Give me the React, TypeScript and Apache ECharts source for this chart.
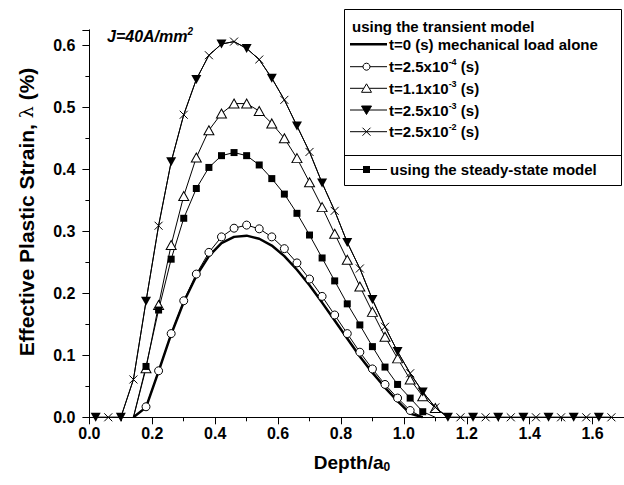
import React, { useEffect, useRef } from "react";
import * as echarts from "echarts";

// Depth / a0 sampling (x)
const depthFull = [
  0.02, 0.06, 0.1, 0.14, 0.18, 0.22, 0.26, 0.3, 0.34, 0.38, 0.42, 0.46, 0.5, 0.54,
  0.58, 0.62, 0.66, 0.7, 0.74, 0.78, 0.82, 0.86, 0.9, 0.94, 0.98, 1.02, 1.06, 1.1,
  1.14, 1.18, 1.22, 1.26, 1.3, 1.34, 1.38, 1.42, 1.46, 1.5, 1.54, 1.58, 1.62, 1.66,
];
const depthCore = [
  0.14, 0.18, 0.22, 0.26, 0.3, 0.34, 0.38, 0.42, 0.46, 0.5, 0.54, 0.58, 0.62, 0.66,
  0.7, 0.74, 0.78, 0.82, 0.86, 0.9, 0.94, 0.98, 1.02, 1.06, 1.1, 1.14,
];

// Effective plastic strain (%)
const strainT0 = [
  0, 0.016, 0.074, 0.134, 0.186, 0.228, 0.26, 0.281, 0.291, 0.293, 0.288, 0.277,
  0.26, 0.238, 0.213, 0.185, 0.156, 0.127, 0.098, 0.072, 0.048, 0.026, 0.006, 0,
];
const strainT25e4 = [
  0, 0.017, 0.075, 0.135, 0.188, 0.231, 0.266, 0.291, 0.305, 0.31, 0.304, 0.291,
  0.272, 0.249, 0.223, 0.195, 0.165, 0.135, 0.105, 0.078, 0.053, 0.031, 0.011, 0,
];
const strainT11e3 = [
  0, 0.079, 0.181, 0.278, 0.357, 0.419, 0.463, 0.49, 0.506, 0.506, 0.494, 0.474,
  0.45, 0.418, 0.379, 0.339, 0.296, 0.254, 0.211, 0.17, 0.13, 0.095, 0.061, 0.034,
  0.015, 0,
];
const strainT25e3 = [
  0, 0, 0, 0.061, 0.187, 0.309, 0.412, 0.488, 0.545, 0.584, 0.602, 0.606, 0.595,
  0.577, 0.547, 0.512, 0.47, 0.428, 0.378, 0.333, 0.282, 0.24, 0.19, 0.146, 0.106,
  0.071, 0.041, 0.016, 0, 0, 0, 0, 0, 0, 0, 0, 0, 0, 0, 0, 0, 0,
];
const strainT25e2 = [
  0, 0, 0, 0.061, 0.187, 0.309, 0.412, 0.488, 0.545, 0.584, 0.602, 0.606, 0.595,
  0.577, 0.547, 0.512, 0.47, 0.428, 0.378, 0.333, 0.282, 0.24, 0.19, 0.146, 0.106,
  0.071, 0.041, 0.016, 0, 0, 0, 0, 0, 0, 0, 0, 0, 0, 0, 0, 0, 0,
];
const strainSteady = [
  0, 0.082, 0.173, 0.255, 0.321, 0.369, 0.403, 0.422, 0.427, 0.422, 0.407, 0.385,
  0.36, 0.329, 0.294, 0.257, 0.22, 0.183, 0.149, 0.114, 0.081, 0.053, 0.031, 0.009, 0,
];

const FONT = "Liberation Sans";
const CROSS = "path://M0,0L10,10M10,0L0,10";

const pairs = (xs: number[], ys: number[]) => ys.map((y, i) => [xs[i], y]);

export default function App() {
  const ref = useRef<HTMLDivElement>(null);
  useEffect(() => {
    const chart = echarts.init(ref.current!, null, { renderer: "svg" });
    const black = "#000";
    const thin = { color: black, width: 1 };
    const openItem = { color: "#fff", borderColor: black, borderWidth: 1 };
    const fillItem = { color: black, borderColor: black, borderWidth: 0 };

    const LX0 = 350;
    const LX1 = 387;
    const MX = 366.5;
    const TX = 389;
    const rich = {
      a: { fontFamily: FONT, fontSize: 15, fontWeight: "bold", color: black, lineHeight: 18 },
      s: { fontFamily: FONT, fontSize: 9, fontWeight: "bold", color: black, verticalAlign: "top", lineHeight: 9 },
    };
    const legendText = (y: number, text: string) => ({
      type: "text",
      x: TX,
      y,
      silent: true,
      style: { text, rich, align: "left", verticalAlign: "middle", textAlign: "left", textVerticalAlign: "middle" },
    });
    const sample = (y: number, w: number) => ({
      type: "line",
      silent: true,
      shape: { x1: LX0, y1: y, x2: LX1, y2: y },
      style: { stroke: black, lineWidth: w },
    });
    const rows = [44.3, 66.7, 88.3, 110, 131.7];
    const ySteady = 169.5;

    const graphic: any[] = [
      {
        type: "rect",
        silent: true,
        shape: { x: 344.5, y: 9.5, width: 277, height: 176 },
        style: { fill: "#fff", stroke: black, lineWidth: 1 },
      },
      {
        type: "line",
        silent: true,
        shape: { x1: 344.5, y1: 155.5, x2: 621.5, y2: 155.5 },
        style: { stroke: black, lineWidth: 1 },
      },
      {
        type: "text",
        x: 352,
        y: 26.5,
        silent: true,
        style: { text: "{a|using the transient model}", rich, align: "left", verticalAlign: "middle", textAlign: "left", textVerticalAlign: "middle" },
      },
      sample(rows[0], 2.5),
      legendText(rows[0], "{a|t=0 (s) mechanical load alone}"),
      sample(rows[1], 1),
      { type: "circle", silent: true, shape: { cx: MX, cy: rows[1], r: 3.5 }, style: { fill: "#fff", stroke: black, lineWidth: 1 } },
      legendText(rows[1], "{a|t=2.5x10}{s|-4}{a| (s)}"),
      sample(rows[2], 1),
      {
        type: "polygon",
        silent: true,
        shape: { points: [[MX, rows[2] - 4.5], [MX + 5, rows[2] + 4], [MX - 5, rows[2] + 4]] },
        style: { fill: "#fff", stroke: black, lineWidth: 1 },
      },
      legendText(rows[2], "{a|t=1.1x10}{s|-3}{a| (s)}"),
      sample(rows[3], 1),
      {
        type: "polygon",
        silent: true,
        shape: { points: [[MX - 5, rows[3] - 4], [MX + 5, rows[3] - 4], [MX, rows[3] + 4.5]] },
        style: { fill: black, stroke: black, lineWidth: 1 },
      },
      legendText(rows[3], "{a|t=2.5x10}{s|-3}{a| (s)}"),
      sample(rows[4], 1),
      { type: "line", silent: true, shape: { x1: MX - 4, y1: rows[4] - 4, x2: MX + 4, y2: rows[4] + 4 }, style: { stroke: black, lineWidth: 1 } },
      { type: "line", silent: true, shape: { x1: MX - 4, y1: rows[4] + 4, x2: MX + 4, y2: rows[4] - 4 }, style: { stroke: black, lineWidth: 1 } },
      legendText(rows[4], "{a|t=2.5x10}{s|-2}{a| (s)}"),
      sample(ySteady, 1),
      { type: "rect", silent: true, shape: { x: MX - 3.5, y: ySteady - 3.5, width: 7, height: 7 }, style: { fill: black } },
      { ...legendText(ySteady, "{a|using the steady-state model}"), x: 390 },
      {
        type: "text",
        x: 107,
        y: 36,
        silent: true,
        style: {
          text: "{a|J=40A/mm}{s|2}",
          rich: {
            a: { fontFamily: FONT, fontSize: 16, fontWeight: "bold", fontStyle: "italic", color: black, lineHeight: 19 },
            s: { fontFamily: FONT, fontSize: 10, fontWeight: "bold", fontStyle: "italic", color: black, verticalAlign: "top", lineHeight: 10 },
          },
          align: "left", verticalAlign: "middle", textAlign: "left", textVerticalAlign: "middle",
        },
      },
      {
        type: "text",
        x: 26,
        y: 212,
        rotation: Math.PI / 2,
        silent: true,
        style: {
          text: "{a|Effective Plastic Strain, }{l|λ}{a| (%)}",
          rich: {
            a: { fontFamily: FONT, fontSize: 21, fontWeight: "bold", color: black, lineHeight: 25 },
            l: { fontFamily: "DejaVu Serif", fontSize: 19, fontWeight: "normal", color: black, lineHeight: 25 },
          },
          align: "center", verticalAlign: "middle", textAlign: "center", textVerticalAlign: "middle",
        },
      },
      {
        type: "text",
        x: 352,
        y: 462,
        silent: true,
        style: {
          text: "{a|Depth/a}{b|0}",
          rich: {
            a: { fontFamily: FONT, fontSize: 19, fontWeight: "bold", color: black, lineHeight: 22 },
            b: { fontFamily: FONT, fontSize: 12, fontWeight: "bold", color: black, verticalAlign: "bottom", lineHeight: 12 },
          },
          align: "center", verticalAlign: "middle", textAlign: "center", textVerticalAlign: "middle",
        },
      },
    ];

    const axisCommon = {
      type: "value" as const,
      axisLine: { show: true, onZero: false, lineStyle: { color: black, width: 1 } },
      axisTick: { show: true, inside: false, length: 7, lineStyle: { color: black, width: 1 } },
      minorTick: { show: true, splitNumber: 2, length: 4, lineStyle: { color: black, width: 1 } },
      splitLine: { show: false },
      minorSplitLine: { show: false },
    };

    const option: any = {
      animation: false,
      backgroundColor: "#fff",
      textStyle: { fontFamily: FONT },
      grid: { left: 89.4, top: 29.8, right: -3, bottom: 67.7, containLabel: false },
      xAxis: {
        ...axisCommon,
        min: 0,
        max: 1.7,
        interval: 0.2,
        axisLabel: {
          color: black,
          fontFamily: FONT,
          fontWeight: "bold",
          fontSize: 16,
          margin: 8,
          showMaxLabel: false,
          formatter: (v: number) => v.toFixed(1),
        },
      },
      yAxis: {
        ...axisCommon,
        min: 0,
        max: 0.625,
        interval: 0.1,
        axisLabel: {
          color: black,
          fontFamily: FONT,
          fontWeight: "bold",
          fontSize: 16,
          margin: 14,
          showMaxLabel: false,
          formatter: (v: number) => v.toFixed(1),
        },
      },
      graphic,
      series: [
        {
          name: "t=0 (s) mechanical load alone",
          type: "line",
          data: pairs(depthCore, strainT0),
          symbol: "none",
          lineStyle: { color: black, width: 2.5 },
          z: 3,
        },
        {
          name: "t=2.5x10^-4 (s)",
          type: "line",
          data: pairs(depthCore, strainT25e4),
          symbol: (v: number[]) => (v[1] === 0 ? "none" : "circle"),
          symbolSize: 8,
          itemStyle: openItem,
          lineStyle: thin,
          z: 4,
        },
        {
          name: "t=1.1x10^-3 (s)",
          type: "line",
          data: pairs(depthCore, strainT11e3),
          symbol: (v: number[]) => (v[1] === 0 ? "none" : "triangle"),
          symbolSize: [10, 9],
          itemStyle: openItem,
          lineStyle: thin,
          z: 4,
        },
        {
          name: "t=2.5x10^-3 (s)",
          type: "line",
          data: pairs(depthFull, strainT25e3),
          symbol: (v: number[], p: any) => (p.dataIndex % 2 === 0 ? "triangle" : "none"),
          symbolRotate: 180,
          symbolSize: [10, 9],
          itemStyle: fillItem,
          lineStyle: thin,
          z: 5,
        },
        {
          name: "t=2.5x10^-2 (s)",
          type: "line",
          data: pairs(depthFull, strainT25e2),
          symbol: (v: number[], p: any) => (p.dataIndex % 2 === 1 ? CROSS : "none"),
          symbolSize: 8,
          itemStyle: { color: "none", borderColor: black, borderWidth: 1 },
          lineStyle: thin,
          z: 5,
        },
        {
          name: "using the steady-state model",
          type: "line",
          data: pairs(depthCore, strainSteady),
          symbol: (v: number[]) => (v[1] === 0 ? "none" : "rect"),
          symbolSize: 7,
          itemStyle: fillItem,
          lineStyle: thin,
          z: 4,
        },
      ],
    };
    chart.setOption(option);
    return () => chart.dispose();
  }, []);
  return (
    <div
      ref={ref}
      style={{ position: "absolute", left: 0, top: 0, width: 624, height: 485, background: "#fff", overflow: "hidden" }}
    />
  );
}
